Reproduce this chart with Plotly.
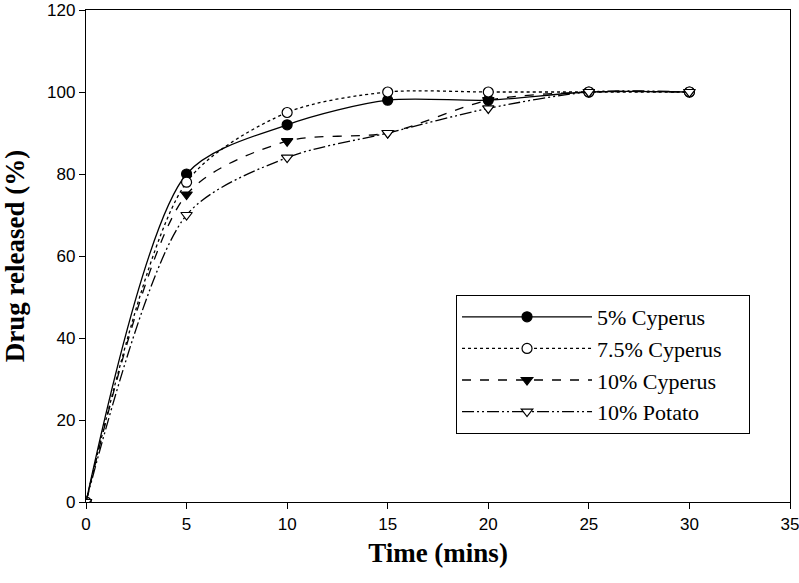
import plotly.graph_objects as go

time_min = [0, 5, 10, 15, 20, 25, 30]
cyperus_5 = [0, 80, 92, 98, 98, 100, 100]
cyperus_7_5 = [0, 78, 95, 100, 100, 100, 100]
cyperus_10 = [0, 75, 88, 90, 98, 100, 100]
potato_10 = [0, 70, 84, 90, 96, 100, 100]

series = [
    ("5% Cyperus", cyperus_5, "solid", "circle", "black"),
    ("7.5% Cyperus", cyperus_7_5, "dot", "circle", "white"),
    ("10% Cyperus", cyperus_10, "dash", "triangle-down", "black"),
    ("10% Potato", potato_10, "12px,3px,2px,3px,2px,3px", "triangle-down", "white"),
]

fig = go.Figure()
for name, vals, dash, sym, fill in series:
    fig.add_trace(go.Scatter(
        x=time_min, y=vals, name=name + "\u00a0\u00a0\u00a0\u00a0", mode="lines+markers",
        line=dict(color="black", width=1.3, dash=dash, shape="spline", smoothing=0.8),
        marker=dict(symbol=sym, size=10, color=fill, line=dict(color="black", width=1.2)),
    ))

fig.update_layout(
    width=799, height=583,
    margin=dict(l=86, r=9, t=10, b=81),
    plot_bgcolor="white", paper_bgcolor="white",
    showlegend=True,
    legend=dict(
        x=0.5256, y=0.4207, xanchor="left", yanchor="top",
        bordercolor="black", borderwidth=1, bgcolor="white",
        font=dict(family="Liberation Serif", size=22, color="black"),
        itemwidth=130, tracegroupgap=0,
    ),
    font=dict(family="Liberation Sans Narrow, Liberation Sans", size=17, color="black"),
)
fig.update_xaxes(
    range=[0, 35], tickvals=[0, 5, 10, 15, 20, 25, 30, 35],
    showline=True, linecolor="black", linewidth=1.3, mirror=True,
    ticks="outside", ticklen=6, tickcolor="black", showgrid=False, zeroline=False,
    automargin=False, ticklabeloverflow="allow",
    title=dict(text="<b>Time (mins)</b>", font=dict(family="Liberation Serif", size=27), standoff=10),
)
fig.update_yaxes(
    range=[0, 120], tickvals=[0, 20, 40, 60, 80, 100, 120],
    showline=True, linecolor="black", linewidth=1.3, mirror=True,
    ticks="outside", ticklen=6, tickcolor="black", showgrid=False, zeroline=False,
    automargin=False, ticklabeloverflow="allow",
    title=dict(text="<b>Drug released (%)</b>", font=dict(family="Liberation Serif", size=27), standoff=24),
)
fig.write_html("out.html", config={"displayModeBar": False},
               post_script="document.body.style.margin='0';")
